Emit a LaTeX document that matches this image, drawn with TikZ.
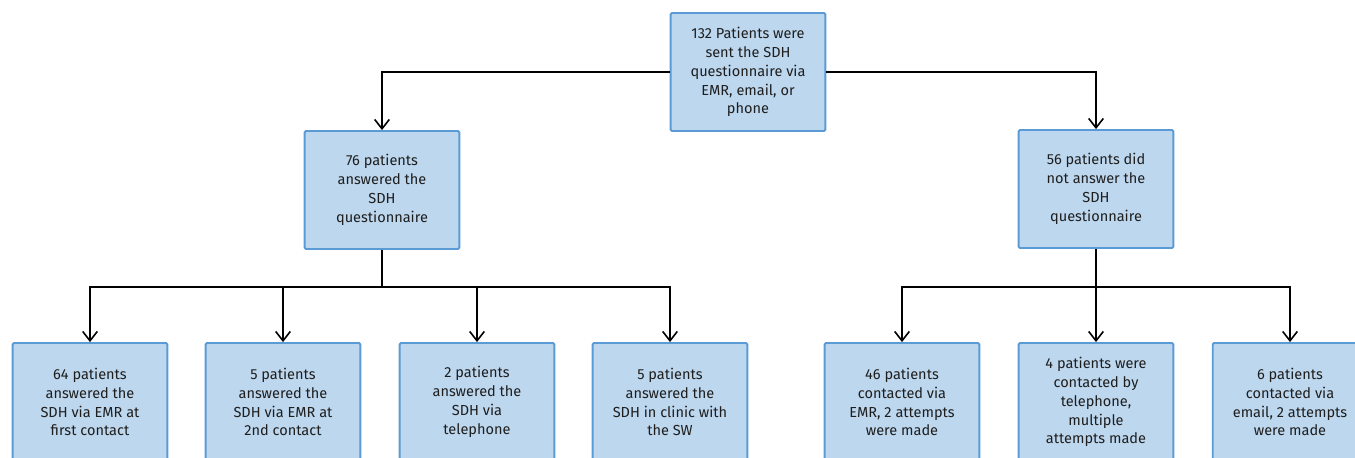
\documentclass[tikz,border=0pt]{standalone}
\usepackage{fontspec}
\setmainfont{Fira Sans}
\usetikzlibrary{arrows.meta}
\definecolor{boxfill}{RGB}{189,215,238}
\definecolor{boxline}{RGB}{91,155,213}
\definecolor{boxtext}{RGB}{30,30,30}

\begin{document}
\begin{tikzpicture}[x=0.75pt, y=-0.75pt,
  font=\fontsize{10.9}{14.2}\selectfont,
  flowbox/.style={draw=boxline, fill=boxfill, line width=1.4pt, rounded corners=1pt,
    minimum width=116pt, minimum height=88.5pt, align=center, text=boxtext, inner sep=2pt},
  arr/.style={line width=1.2pt, -{Straight Barb[length=7pt, width=11pt, line width=1.2pt]}},
  link/.style={line width=1.2pt}]
  \useasboundingbox (0,0) rectangle (1355,457);

  % Top of the tree
  \node[flowbox] (sent) at (748,72) {132 Patients were\\sent the SDH\\questionnaire via\\EMR, email, or\\phone};

  % Second level
  \node[flowbox] (answered) at (382,190) {76 patients\\answered the\\SDH\\questionnaire};
  \node[flowbox] (noanswer) at (1096,189) {56 patients did\\not answer the\\SDH\\questionnaire};

  % Bottom row
  \node[flowbox] (emrfirst) at (90,402) {64 patients\\answered the\\SDH via EMR at\\first contact};
  \node[flowbox] (emrsecond) at (283,402) {5 patients\\answered the\\SDH via EMR at\\2nd contact};
  \node[flowbox] (phone) at (477,402) {2 patients\\answered the\\SDH via\\telephone};
  \node[flowbox] (clinic) at (670,402) {5 patients\\answered the\\SDH in clinic with\\the SW};
  \node[flowbox] (emrtry) at (902,402) {46 patients\\contacted via\\EMR, 2 attempts\\were made};
  \node[flowbox] (phonetry) at (1096,402) {4 patients were\\contacted by\\telephone,\\multiple\\attempts made};
  \node[flowbox] (mailtry) at (1290,402) {6 patients\\contacted via\\email, 2 attempts\\were made};

  % Connectors
  \draw[arr] (sent.west) -| (answered.north);
  \draw[arr] (sent.east) -| (noanswer.north);

  \coordinate (leftsplit) at (answered.south |- 0,287);
  \coordinate (rightsplit) at (noanswer.south |- 0,287);
  \draw[link] (answered.south) -- (leftsplit);
  \draw[link] (noanswer.south) -- (rightsplit);

  \draw[arr] (leftsplit) -| (emrfirst.north);
  \draw[arr] (leftsplit) -| (emrsecond.north);
  \draw[arr] (leftsplit) -| (phone.north);
  \draw[arr] (leftsplit) -| (clinic.north);
  \draw[arr] (rightsplit) -| (emrtry.north);
  \draw[arr] (rightsplit) -- (phonetry.north);
  \draw[arr] (rightsplit) -| (mailtry.north);
\end{tikzpicture}
\end{document}
